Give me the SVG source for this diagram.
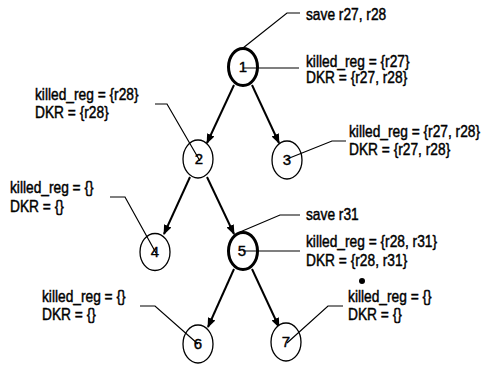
<svg xmlns="http://www.w3.org/2000/svg" width="489" height="365" viewBox="0 0 489 365">
  <style>
    .node ellipse { fill: #fff; stroke: #000; stroke-width: 1.3; }
    .node.thick ellipse { stroke-width: 3; }
    .num { font-family: "Liberation Sans", Arial, sans-serif; font-size: 15px; text-anchor: middle; fill: #000; stroke: #000; stroke-width: 0.4; }
    .lbl { font-family: "Liberation Sans", Arial, sans-serif; font-size: 16px; fill: #000; stroke: #000; stroke-width: 0.45; }
    .edge { stroke: #000; stroke-width: 2; fill: none; marker-end: url(#arrow); }
    .callout { stroke: #000; stroke-width: 1.2; fill: none; }
  </style>
  <defs>
    <marker id="arrow" viewBox="0 0 10 10" refX="9" refY="5" markerWidth="5" markerHeight="5" orient="auto" markerUnits="strokeWidth">
      <path d="M0,1 L10,5 L0,9 z" fill="#000"/>
    </marker>
  </defs>
  <rect width="489" height="365" fill="#fff"/>

  <!-- tree edges -->
  <g id="edges">
    <line class="edge" x1="234" y1="85" x2="207" y2="143"/>
    <line class="edge" x1="252" y1="85" x2="279" y2="143"/>
    <line class="edge" x1="190" y1="177" x2="164" y2="234"/>
    <line class="edge" x1="207" y1="177" x2="234" y2="234"/>
    <line class="edge" x1="234" y1="269" x2="208" y2="327"/>
    <line class="edge" x1="252" y1="269" x2="279" y2="327"/>
  </g>

  <!-- nodes -->
  <g id="n1" class="node thick"><ellipse cx="243" cy="67" rx="14.5" ry="18.5"/><text class="num" x="243" y="72">1</text></g>
  <g id="n2" class="node"><ellipse cx="198" cy="159" rx="15" ry="19"/><text class="num" x="199" y="164">2</text></g>
  <g id="n3" class="node"><ellipse cx="287" cy="160" rx="15" ry="19"/><text class="num" x="287" y="165">3</text></g>
  <g id="n4" class="node"><ellipse cx="155" cy="252" rx="15" ry="18.5"/><text class="num" x="155" y="257">4</text></g>
  <g id="n5" class="node thick"><ellipse cx="243" cy="251" rx="14.5" ry="18.5"/><text class="num" x="242" y="256">5</text></g>
  <g id="n6" class="node"><ellipse cx="198" cy="344" rx="15" ry="19"/><text class="num" x="198" y="349">6</text></g>
  <g id="n7" class="node"><ellipse cx="286" cy="342" rx="15" ry="19"/><text class="num" x="286" y="347">7</text></g>

  <!-- annotation leader lines -->
  <g id="callouts">
    <polyline class="callout" points="243,48 287,13 300,13"/>
    <polyline class="callout" points="243,68 299,68"/>
    <polyline class="callout" points="155,104 167,104 200,161"/>
    <polyline class="callout" points="346,141 332,141 287,159"/>
    <polyline class="callout" points="110,197 125,197 156,253"/>
    <polyline class="callout" points="240,232 280,215 300,215"/>
    <polyline class="callout" points="243,251 300,251"/>
    <polyline class="callout" points="343,306 328,306 287,343"/>
    <polyline class="callout" points="140,306 155,306 198,344"/>
  </g>

  <circle cx="362" cy="281" r="3" fill="#000"/>

  <!-- annotations: narrow lettering, x values are in the condensed (0.86) frame -->
  <g id="labels" transform="scale(0.86,1)">
    <text class="lbl" x="355.8" y="20">save r27, r28</text>
    <text class="lbl" x="355.8" y="67">killed_reg = {r27}</text>
    <text class="lbl" x="355.8" y="83.5">DKR = {r27, r28}</text>

    <text class="lbl" x="40.7" y="100">killed_reg = {r28}</text>
    <text class="lbl" x="40.7" y="118">DKR = {r28}</text>

    <text class="lbl" x="405.8" y="137">killed_reg = {r27, r28}</text>
    <text class="lbl" x="405.8" y="155">DKR = {r27, r28}</text>

    <text class="lbl" x="11.6" y="193">killed_reg = {}</text>
    <text class="lbl" x="11.6" y="212">DKR = {}</text>

    <text class="lbl" x="355.8" y="220">save r31</text>
    <text class="lbl" x="355.8" y="247">killed_reg = {r28, r31}</text>
    <text class="lbl" x="355.8" y="266">DKR = {r28, r31}</text>

    <text class="lbl" x="404.7" y="302">killed_reg = {}</text>
    <text class="lbl" x="404.7" y="320">DKR = {}</text>

    <text class="lbl" x="48.8" y="302">killed_reg = {}</text>
    <text class="lbl" x="48.8" y="320">DKR = {}</text>
  </g>
</svg>
